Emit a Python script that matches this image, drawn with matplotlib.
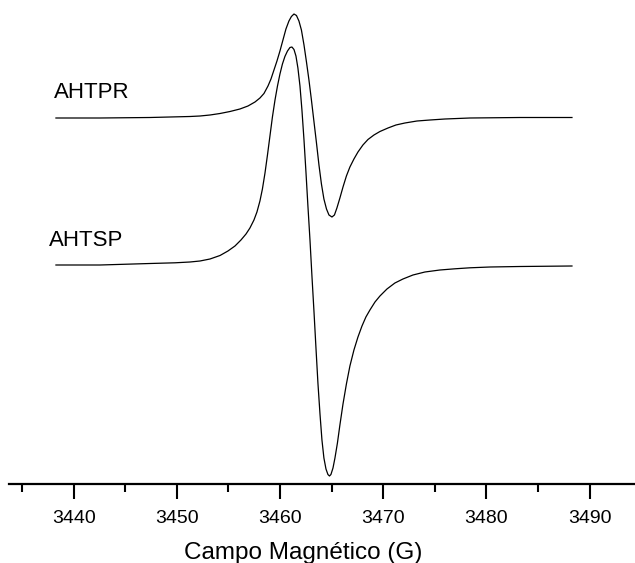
import numpy as np
import matplotlib.pyplot as plt
from matplotlib.ticker import MultipleLocator

plt.rcParams['font.family'] = ['Liberation Sans', 'DejaVu Sans']

campo_ahtpr = [3438.28, 3442.55, 3447.39, 3451.27, 3452.24, 3453.21, 3454.18, 3455.15,
               3456.11, 3456.89, 3457.57, 3458.05, 3458.44, 3458.83, 3459.12, 3459.41,
               3459.70, 3459.99, 3460.28, 3460.57, 3460.86, 3461.10, 3461.35, 3461.59,
               3461.83, 3462.07, 3462.32, 3462.56, 3462.80, 3463.04, 3463.29, 3463.53,
               3463.77, 3464.01, 3464.25, 3464.50, 3464.74, 3465.03, 3465.27, 3465.51,
               3465.80, 3466.10, 3466.43, 3466.77, 3467.16, 3467.55, 3468.03, 3468.52,
               3469.10, 3469.68, 3470.46, 3471.23, 3472.10, 3473.27, 3474.53, 3475.98,
               3478.40, 3483.25, 3488.29]
sinal_ahtpr = [-0.5, -0.5, 0, 1, 1.5, 2.5, 4, 6,
               8.5, 11.5, 15.5, 19.5, 24, 31.5, 38.5, 47.5,
               56.5, 66.5, 77.5, 88.5, 96.5, 101, 103.5, 102,
               96.5, 87.5, 72.5, 55.5, 37.5, 17.5, -4.5, -25.5,
               -47.5, -66.5, -81.5, -91.5, -97.5, -99.5, -97.5, -90.5,
               -80.5, -69.5, -58.5, -49.5, -41.5, -34.5, -27.5, -22,
               -17.5, -14, -10.5, -7.5, -5.5, -3.5, -2.5, -1.5,
               -0.5, 0, 0]

campo_ahtsp = [3438.28, 3442.55, 3447.39, 3449.82, 3451.27, 3452.24, 3453.21, 3454.18,
               3454.95, 3455.63, 3456.21, 3456.70, 3457.08, 3457.47, 3457.76, 3458.05,
               3458.29, 3458.54, 3458.78, 3459.02, 3459.26, 3459.51, 3459.75, 3459.99,
               3460.23, 3460.47, 3460.72, 3460.96, 3461.15, 3461.35, 3461.54, 3461.73,
               3461.93, 3462.12, 3462.32, 3462.51, 3462.70, 3462.90, 3463.09, 3463.29,
               3463.48, 3463.67, 3463.87, 3464.06, 3464.25, 3464.45, 3464.64, 3464.79,
               3464.93, 3465.13, 3465.32, 3465.56, 3465.80, 3466.10, 3466.43, 3466.77,
               3467.16, 3467.55, 3467.94, 3468.32, 3468.71, 3469.20, 3469.68, 3470.36,
               3471.13, 3471.91, 3472.88, 3474.04, 3475.49, 3476.95, 3478.40, 3480.34,
               3483.25, 3488.29]
sinal_ahtsp = [0.5, 0.5, 2, 2.7, 3.5, 4.5, 6.5, 10,
               14.5, 19.5, 25.5, 31.5, 37.5, 45.5, 53.5, 64.5,
               76.5, 92.5, 110.5, 129.5, 148.5, 165.5, 179.5, 191.5,
               201.5, 209, 214.5, 218, 218.5, 216, 209.5, 197.5,
               179.5, 155.5, 125.5, 93.5, 59.5, 25.5, -10.5, -46.5,
               -82.5, -117.5, -148.5, -174.5, -192.5, -203.5, -209, -210.5,
               -209, -202.5, -192.5, -177.5, -159.5, -138.5, -118.5, -100.5,
               -84.5, -71.5, -60.5, -51.5, -44.5, -36.5, -30.5, -23.5,
               -17.5, -13.5, -9.5, -6.5, -4.5, -3.3, -2.3, -1.5,
               -1, -0.5]

deslocamento = 148  # separação vertical entre os espectros

fig = plt.figure(figsize=(6.35, 5.63), dpi=100)
ax = fig.add_axes([9/635, 79/563, 626/635, 484/563])

ax.plot(campo_ahtpr, np.array(sinal_ahtpr) + deslocamento, color='black', linewidth=0.9)
ax.plot(campo_ahtsp, sinal_ahtsp, color='black', linewidth=0.9)

ax.text(3438.1, deslocamento + 25.5, 'AHTPR', fontsize=16, va='center', ha='left')
ax.text(3437.6, 25.5, 'AHTSP', fontsize=16, va='center', ha='left')

ax.set_xlim(3433.73, 3494.4)
ax.set_ylim(-218.5, 265.5)

for lado in ['top', 'right', 'left']:
    ax.spines[lado].set_visible(False)
ax.spines['bottom'].set_linewidth(1.6)
ax.set_yticks([])

ax.xaxis.set_major_locator(MultipleLocator(10))
ax.xaxis.set_minor_locator(MultipleLocator(5))
ax.tick_params(axis='x', which='major', direction='out', length=11, width=1.5,
               labelsize=14, pad=8)
ax.tick_params(axis='x', which='minor', direction='out', length=6, width=1.5)
ax.set_xlabel('Campo Magnético (G)', fontsize=17.5, labelpad=8)
ax.xaxis.set_label_coords(0.47, -0.12)

plt.savefig('out.png', dpi=100)
